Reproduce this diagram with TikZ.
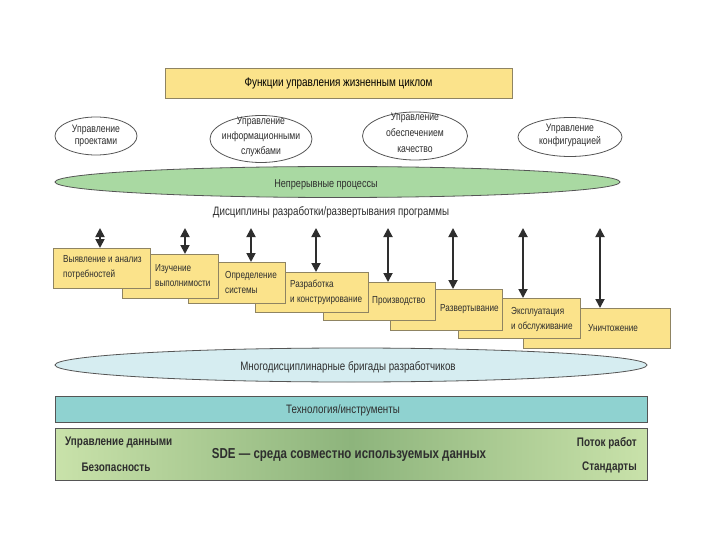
\documentclass[tikz,border=0pt]{standalone}
\usepackage{fontspec}
\setmainfont[FakeStretch=0.8]{Liberation Sans}
\usetikzlibrary{shapes.geometric,arrows.meta}
\definecolor{ylw}{HTML}{FBE38B}
\definecolor{ylwborder}{HTML}{8F8462}
\definecolor{grn}{HTML}{A9D9A2}
\definecolor{lblue}{HTML}{D6EDF1}
\definecolor{teal}{HTML}{8FD2D0}
\definecolor{sdelight}{HTML}{C9E2AA}
\definecolor{sdedark}{HTML}{8DB47C}
\definecolor{ink}{HTML}{2E2E2E}
\definecolor{edge}{HTML}{555555}
\tikzset{
  ybox/.style={draw=ylwborder, fill=ylw, line width=0.8pt, inner sep=0pt, anchor=north west},
  topbox/.style={draw=ylwborder, fill=ylw, line width=0.8pt, inner sep=0pt, font=\fontsize{12.4}{14}\selectfont},
  sell/.style={ellipse, draw=edge, fill=white, line width=0.8pt, inner sep=0pt},
  etext/.style={align=center, inner sep=0pt, text=ink},
  btext/.style={align=left, inner sep=0pt, anchor=west, font=\fontsize{10.2}{15}\selectfont, text=ink},
  plain/.style={inner sep=0pt, font=\fontsize{12.2}{14}\selectfont, text=ink},
  arr/.style={draw=ink, line width=1.8pt, {Triangle[length=9pt,width=9pt]}-{Triangle[length=9pt,width=9pt]}},
  bar/.style={draw=edge, line width=0.8pt, inner sep=0pt, anchor=north west},
  bold/.style={inner sep=0pt, font=\bfseries\fontsize{12.4}{14}\selectfont, text=ink},
}
\begin{document}
\begin{tikzpicture}[x=1pt,y=-1pt]
\useasboundingbox[fill=white] (0,0) rectangle (720,540);

% top box
\node[topbox, minimum width=347pt, minimum height=30pt] (top) at (338.5,83) {Функции управления жизненным циклом};

% small ellipses
\node[sell, minimum width=82pt, minimum height=38pt] (e1) at (96,136) {};
\node[etext, font=\fontsize{10.8}{12}\selectfont] (e1t) at (96,136) {Управление\\проектами};
\node[sell, minimum width=102pt, minimum height=47pt] (e2) at (261,139) {};
\node[etext, font=\fontsize{10.8}{15}\selectfont] (e2t) at (261,137) {Управление\\информационными\\службами};
\node[sell, minimum width=105pt, minimum height=48pt] (e3) at (415,136) {};
\node[etext, font=\fontsize{10.8}{16}\selectfont] (e3t) at (415,133) {Управление\\обеспечением\\качество};
\node[sell, minimum width=104pt, minimum height=39pt] (e4) at (570,137) {};
\node[etext, font=\fontsize{10.8}{13}\selectfont] (e4t) at (570,135) {Управление\\конфигурацией};

% continuous processes
\node[ellipse, draw=edge, fill=grn, line width=0.8pt, inner sep=0pt, minimum width=565pt, minimum height=31pt] (cp) at (337.5,182) {};
\node[plain, font=\fontsize{11.4}{13}\selectfont] (cpt) at (326,185) {Непрерывные процессы};

\node[plain] (disc) at (331,212) {Дисциплины разработки/развертывания программы};

% staircase boxes (drawn back to front)
\node[ybox, minimum width=147pt, minimum height=40pt] (b8) at (523,308) {};
\node[ybox, minimum width=122pt, minimum height=40pt] (b7) at (458,298) {};
\node[ybox, minimum width=112pt, minimum height=41pt] (b6) at (390,289) {};
\node[ybox, minimum width=112pt, minimum height=38pt] (b5) at (323,282) {};
\node[ybox, minimum width=113pt, minimum height=40pt] (b4) at (255,272) {};
\node[ybox, minimum width=97pt, minimum height=41pt] (b3) at (188,262) {};
\node[ybox, minimum width=96pt, minimum height=44pt] (b2) at (122,254) {};
\node[ybox, minimum width=97pt, minimum height=40pt] (b1) at (53,248) {};

\node[btext] (b1t) at (63,268) {Выявление и анализ\\потребностей};
\node[btext] (b2t) at (155,276) {Изучение\\выполнимости};
\node[btext] (b3t) at (225,282) {Определение\\системы};
\node[btext] (b4t) at (290,292) {Разработка\\и конструирование};
\node[btext] (b5t) at (372,301) {Производство};
\node[btext] (b6t) at (440,309) {Развертывание};
\node[btext] (b7t) at (511,319) {Эксплуатация\\и обслуживание};
\node[btext] (b8t) at (588,328) {Уничтожение};

% arrows
\coordinate (t1) at (100,228);
\coordinate (t2) at (185,228);
\coordinate (t3) at (251,228);
\coordinate (t4) at (316,228);
\coordinate (t5) at (388,228);
\coordinate (t6) at (453,228);
\coordinate (t7) at (523,228);
\coordinate (t8) at (600,228);
\draw[arr] (t1) -- (t1 |- b1.north);
\draw[arr] (t2) -- (t2 |- b2.north);
\draw[arr] (t3) -- (t3 |- b3.north);
\draw[arr] (t4) -- (t4 |- b4.north);
\draw[arr] (t5) -- (t5 |- b5.north);
\draw[arr] (t6) -- (t6 |- b6.north);
\draw[arr] (t7) -- (t7 |- b7.north);
\draw[arr] (t8) -- (t8 |- b8.north);

% teams ellipse
\node[ellipse, draw=edge, fill=lblue, line width=0.8pt, inner sep=0pt, minimum width=592pt, minimum height=34pt] (team) at (351,365) {};
\node[plain] (teamt) at (348,367) {Многодисциплинарные бригады разработчиков};

% technology bar
\node[bar, fill=teal, minimum width=592pt, minimum height=26pt] (tech) at (55,396) {};
\node[plain] (techt) at (343,410) {Технология/инструменты};

% SDE bar
\node[bar, left color=sdelight, right color=sdelight, middle color=sdedark, minimum width=592pt, minimum height=52pt] (sde) at (55,428) {};
\node[bold, anchor=west] (dm) at (65,443) {Управление данными};
\node[bold] (sec) at (116,467) {Безопасность};
\node[bold, anchor=east] (wf) at (637,443) {Поток работ};
\node[bold, anchor=east] (st) at (637,467) {Стандарты};
\node[bold, font=\bfseries\fontsize{14.4}{16}\selectfont] (sdet) at (349,455) {SDE — среда совместно используемых данных};
\end{tikzpicture}
\end{document}
